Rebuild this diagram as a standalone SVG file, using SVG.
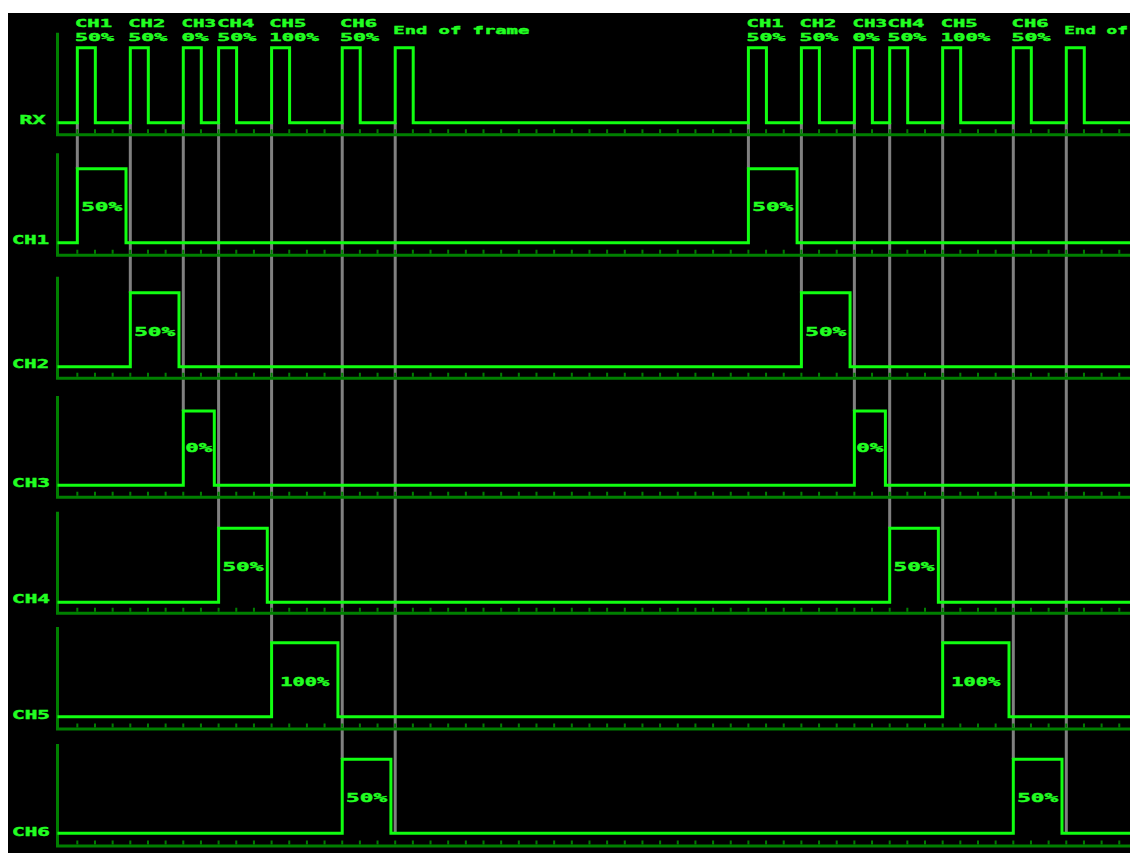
<svg xmlns="http://www.w3.org/2000/svg" width="1130" height="853" viewBox="0 0 1130 853">
<style>
  .bg { fill: #000000; }
  .sig { fill: none; stroke: #11ff11; stroke-width: 3; stroke-linejoin: miter; stroke-linecap: square; }
  .axis { fill: none; stroke: #008000; stroke-width: 3; stroke-linecap: butt; }
  .tick { stroke: #008000; stroke-width: 4; stroke-dasharray: 2 15.66; }
  .guide { stroke: #808080; stroke-width: 3; }
  .lbl { font-family: "DejaVu Sans Mono", "Liberation Mono", monospace; font-weight: bold; fill: #22ff22; stroke: #22ff22; stroke-width: 0.45; }
  .top { font-size: 11px; }
  .row { font-size: 12px; }
  .pl { font-size: 12.5px; text-anchor: middle; }
</style>
<rect x="0" y="0" width="1130" height="853" fill="#ffffff"/>
<rect class="bg" x="8" y="13" width="1122" height="840"/>

<g id="connectors">
  <line class="guide" x1="77.33" y1="122.7" x2="77.33" y2="168.7"/>
  <line class="guide" x1="130.31" y1="122.7" x2="130.31" y2="292.7"/>
  <line class="guide" x1="183.29" y1="122.7" x2="183.29" y2="411"/>
  <line class="guide" x1="218.61" y1="122.7" x2="218.61" y2="528.3"/>
  <line class="guide" x1="271.59" y1="122.7" x2="271.59" y2="642.7"/>
  <line class="guide" x1="342.23" y1="122.7" x2="342.23" y2="759.3"/>
  <line class="guide" x1="395.21" y1="122.7" x2="395.21" y2="833.3"/>
  <line class="guide" x1="748.41" y1="122.7" x2="748.41" y2="168.7"/>
  <line class="guide" x1="801.39" y1="122.7" x2="801.39" y2="292.7"/>
  <line class="guide" x1="854.37" y1="122.7" x2="854.37" y2="411"/>
  <line class="guide" x1="889.69" y1="122.7" x2="889.69" y2="528.3"/>
  <line class="guide" x1="942.67" y1="122.7" x2="942.67" y2="642.7"/>
  <line class="guide" x1="1013.31" y1="122.7" x2="1013.31" y2="759.3"/>
  <line class="guide" x1="1066.29" y1="122.7" x2="1066.29" y2="833.3"/>
</g>

<g id="row-rx">
  <path class="axis" d="M57.5 32.7 V134.7 H1130"/>
  <line class="tick" x1="76.33" y1="131.2" x2="1130" y2="131.2"/>
  <path class="sig" d="M59 122.7 H77.33 V47.7 H95.33 V122.7 H130.31 V47.7 H148.31 V122.7 H183.29 V47.7 H201.29 V122.7 H218.61 V47.7 H236.61 V122.7 H271.59 V47.7 H289.59 V122.7 H342.23 V47.7 H360.23 V122.7 H395.21 V47.7 H413.21 V122.7 H748.41 V47.7 H766.41 V122.7 H801.39 V47.7 H819.39 V122.7 H854.37 V47.7 H872.37 V122.7 H889.69 V47.7 H907.69 V122.7 H942.67 V47.7 H960.67 V122.7 H1013.31 V47.7 H1031.31 V122.7 H1066.29 V47.7 H1084.29 V122.7 H1131"/>
  <text class="lbl row" x="19.5" y="124" textLength="26" lengthAdjust="spacingAndGlyphs">RX</text>
</g>

<g id="rx-labels">
  <text class="lbl top" x="75" y="26.7" textLength="37" lengthAdjust="spacingAndGlyphs">CH1</text>
  <text class="lbl top" x="75" y="41" textLength="39" lengthAdjust="spacingAndGlyphs">50%</text>
  <text class="lbl top" x="128.3" y="26.7" textLength="37" lengthAdjust="spacingAndGlyphs">CH2</text>
  <text class="lbl top" x="128.3" y="41" textLength="39" lengthAdjust="spacingAndGlyphs">50%</text>
  <text class="lbl top" x="181.5" y="26.7" textLength="34.5" lengthAdjust="spacingAndGlyphs">CH3</text>
  <text class="lbl top" x="181.5" y="41" textLength="27" lengthAdjust="spacingAndGlyphs">0%</text>
  <text class="lbl top" x="217.3" y="26.7" textLength="37" lengthAdjust="spacingAndGlyphs">CH4</text>
  <text class="lbl top" x="217.3" y="41" textLength="39" lengthAdjust="spacingAndGlyphs">50%</text>
  <text class="lbl top" x="269.3" y="26.7" textLength="37" lengthAdjust="spacingAndGlyphs">CH5</text>
  <text class="lbl top" x="269.3" y="41" textLength="49.5" lengthAdjust="spacingAndGlyphs">100%</text>
  <text class="lbl top" x="340" y="26.7" textLength="37" lengthAdjust="spacingAndGlyphs">CH6</text>
  <text class="lbl top" x="340" y="41" textLength="39" lengthAdjust="spacingAndGlyphs">50%</text>
  <text class="lbl top" x="393.3" y="34.3" textLength="136" lengthAdjust="spacingAndGlyphs">End of frame</text>

  <text class="lbl top" x="746.6" y="26.7" textLength="37" lengthAdjust="spacingAndGlyphs">CH1</text>
  <text class="lbl top" x="746.6" y="41" textLength="39" lengthAdjust="spacingAndGlyphs">50%</text>
  <text class="lbl top" x="799.4" y="26.7" textLength="37" lengthAdjust="spacingAndGlyphs">CH2</text>
  <text class="lbl top" x="799.4" y="41" textLength="39" lengthAdjust="spacingAndGlyphs">50%</text>
  <text class="lbl top" x="852.4" y="26.7" textLength="34.5" lengthAdjust="spacingAndGlyphs">CH3</text>
  <text class="lbl top" x="852.4" y="41" textLength="27" lengthAdjust="spacingAndGlyphs">0%</text>
  <text class="lbl top" x="887.4" y="26.7" textLength="37" lengthAdjust="spacingAndGlyphs">CH4</text>
  <text class="lbl top" x="887.4" y="41" textLength="39" lengthAdjust="spacingAndGlyphs">50%</text>
  <text class="lbl top" x="940.7" y="26.7" textLength="37" lengthAdjust="spacingAndGlyphs">CH5</text>
  <text class="lbl top" x="940.7" y="41" textLength="49.5" lengthAdjust="spacingAndGlyphs">100%</text>
  <text class="lbl top" x="1011.6" y="26.7" textLength="37" lengthAdjust="spacingAndGlyphs">CH6</text>
  <text class="lbl top" x="1011.6" y="41" textLength="39" lengthAdjust="spacingAndGlyphs">50%</text>
  <text class="lbl top" x="1064.3" y="34.3" textLength="63.5" lengthAdjust="spacingAndGlyphs">End of</text>
</g>

<g id="row-ch1">
  <path class="axis" d="M57.5 153.3 V255.3 H1130"/>
  <line class="tick" x1="76.33" y1="251.8" x2="1130" y2="251.8"/>
  <path class="sig" d="M59 242.7 H77.33 V168.7 H126 V242.7 H748.41 V168.7 H797.1 V242.7 H1131"/>
  <text class="lbl row" x="12" y="244.3" textLength="37" lengthAdjust="spacingAndGlyphs">CH1</text>
  <text class="lbl pl" x="101.67" y="211.3" textLength="41" lengthAdjust="spacingAndGlyphs">50%</text>
  <text class="lbl pl" x="772.76" y="211.3" textLength="41" lengthAdjust="spacingAndGlyphs">50%</text>
</g>

<g id="row-ch2">
  <path class="axis" d="M57.5 276.7 V378.3 H1130"/>
  <line class="tick" x1="76.33" y1="374.8" x2="1130" y2="374.8"/>
  <path class="sig" d="M59 366.7 H130.31 V292.7 H179 V366.7 H801.39 V292.7 H850.07 V366.7 H1131"/>
  <text class="lbl row" x="12" y="368.3" textLength="37" lengthAdjust="spacingAndGlyphs">CH2</text>
  <text class="lbl pl" x="154.65" y="335.7" textLength="41" lengthAdjust="spacingAndGlyphs">50%</text>
  <text class="lbl pl" x="825.73" y="335.7" textLength="41" lengthAdjust="spacingAndGlyphs">50%</text>
</g>

<g id="row-ch3">
  <path class="axis" d="M57.5 396 V497.3 H1130"/>
  <line class="tick" x1="76.33" y1="493.8" x2="1130" y2="493.8"/>
  <path class="sig" d="M59 485.3 H183.29 V411 H214.31 V485.3 H854.37 V411 H885.39 V485.3 H1131"/>
  <text class="lbl row" x="12" y="486.7" textLength="38" lengthAdjust="spacingAndGlyphs">CH3</text>
  <text class="lbl pl" x="198.8" y="451.7" textLength="27" lengthAdjust="spacingAndGlyphs">0%</text>
  <text class="lbl pl" x="869.88" y="451.7" textLength="27" lengthAdjust="spacingAndGlyphs">0%</text>
</g>

<g id="row-ch4">
  <path class="axis" d="M57.5 511.7 V613.3 H1130"/>
  <line class="tick" x1="76.33" y1="609.8" x2="1130" y2="609.8"/>
  <path class="sig" d="M59 602.3 H218.61 V528.3 H267.29 V602.3 H889.69 V528.3 H938.37 V602.3 H1131"/>
  <text class="lbl row" x="12" y="603.3" textLength="38" lengthAdjust="spacingAndGlyphs">CH4</text>
  <text class="lbl pl" x="242.95" y="570.7" textLength="41" lengthAdjust="spacingAndGlyphs">50%</text>
  <text class="lbl pl" x="914.03" y="570.7" textLength="41" lengthAdjust="spacingAndGlyphs">50%</text>
</g>

<g id="row-ch5">
  <path class="axis" d="M57.5 627 V729 H1130"/>
  <line class="tick" x1="76.33" y1="725.5" x2="1130" y2="725.5"/>
  <path class="sig" d="M59 716.7 H271.59 V642.7 H337.93 V716.7 H942.67 V642.7 H1009.01 V716.7 H1131"/>
  <text class="lbl row" x="12" y="718.5" textLength="38" lengthAdjust="spacingAndGlyphs">CH5</text>
  <text class="lbl pl" x="304.76" y="685.7" textLength="49" lengthAdjust="spacingAndGlyphs">100%</text>
  <text class="lbl pl" x="975.84" y="685.7" textLength="49" lengthAdjust="spacingAndGlyphs">100%</text>
</g>

<g id="row-ch6">
  <path class="axis" d="M57.5 744 V846 H1130"/>
  <line class="tick" x1="76.33" y1="842.5" x2="1130" y2="842.5"/>
  <path class="sig" d="M59 833.3 H342.23 V759.3 H390.91 V833.3 H1013.31 V759.3 H1061.99 V833.3 H1131"/>
  <text class="lbl row" x="12" y="835.7" textLength="38" lengthAdjust="spacingAndGlyphs">CH6</text>
  <text class="lbl pl" x="366.57" y="802.3" textLength="41" lengthAdjust="spacingAndGlyphs">50%</text>
  <text class="lbl pl" x="1037.65" y="802.3" textLength="41" lengthAdjust="spacingAndGlyphs">50%</text>
</g>
</svg>
